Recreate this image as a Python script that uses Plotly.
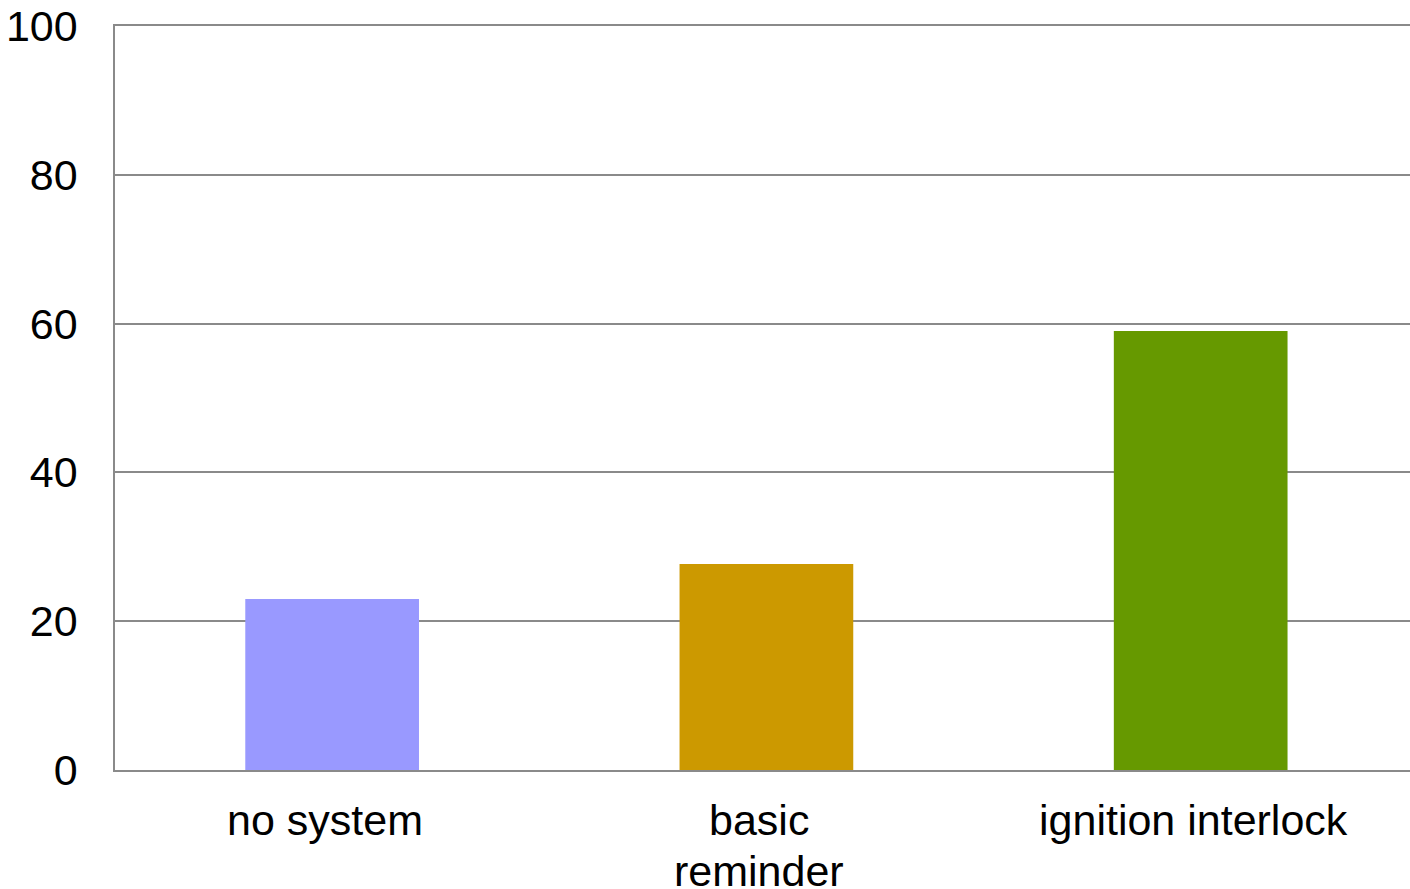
import plotly.graph_objects as go

# Bar chart data
categories = ["no system", "basic<br>reminder", "ignition interlock"]
values = [23, 27.7, 59]
bar_colors = ["#9999ff", "#cc9900", "#669900"]
y_ticks = [0, 20, 40, 60, 80, 100]

grid_color = "#8a8a8a"
font_family = "Liberation Sans, Arial, sans-serif"
label_size = 43
label_top = 24      # px below the x axis line for the first label line
label_step = 51     # px between wrapped label lines

fig = go.Figure(
    go.Bar(
        x=categories,
        y=values,
        marker=dict(color=bar_colors, line=dict(width=0)),
        width=0.4,
        hoverinfo="skip",
    )
)

# Category labels, one annotation per wrapped line for tighter line spacing
for cat in categories:
    for i, line in enumerate(cat.split("<br>")):
        fig.add_annotation(
            x=cat,
            xref="x",
            y=0,
            yref="paper",
            text=line,
            showarrow=False,
            xanchor="center",
            yanchor="top",
            xshift=-7,
            yshift=-(label_top + i * label_step),
            font=dict(family=font_family, size=label_size, color="black"),
        )

fig.update_layout(
    width=1410,
    height=889,
    margin=dict(l=115, r=0, t=26, b=119),
    paper_bgcolor="white",
    plot_bgcolor="white",
    showlegend=False,
    font=dict(family=font_family, size=label_size, color="black"),
)

fig.update_xaxes(
    type="category",
    range=[-0.5, 2.482],
    automargin=False,
    showgrid=False,
    showline=True,
    mirror=True,
    linecolor=grid_color,
    linewidth=1.5,
    ticks="",
    showticklabels=False,
)

fig.update_yaxes(
    range=[0, 100],
    tickvals=y_ticks,
    automargin=False,
    showgrid=True,
    gridcolor=grid_color,
    gridwidth=1.5,
    showline=True,
    linecolor=grid_color,
    linewidth=1.5,
    zeroline=False,
    ticks="",
    ticklabelstandoff=27,
    tickfont=dict(size=label_size),
)

fig.write_html("out.html")
